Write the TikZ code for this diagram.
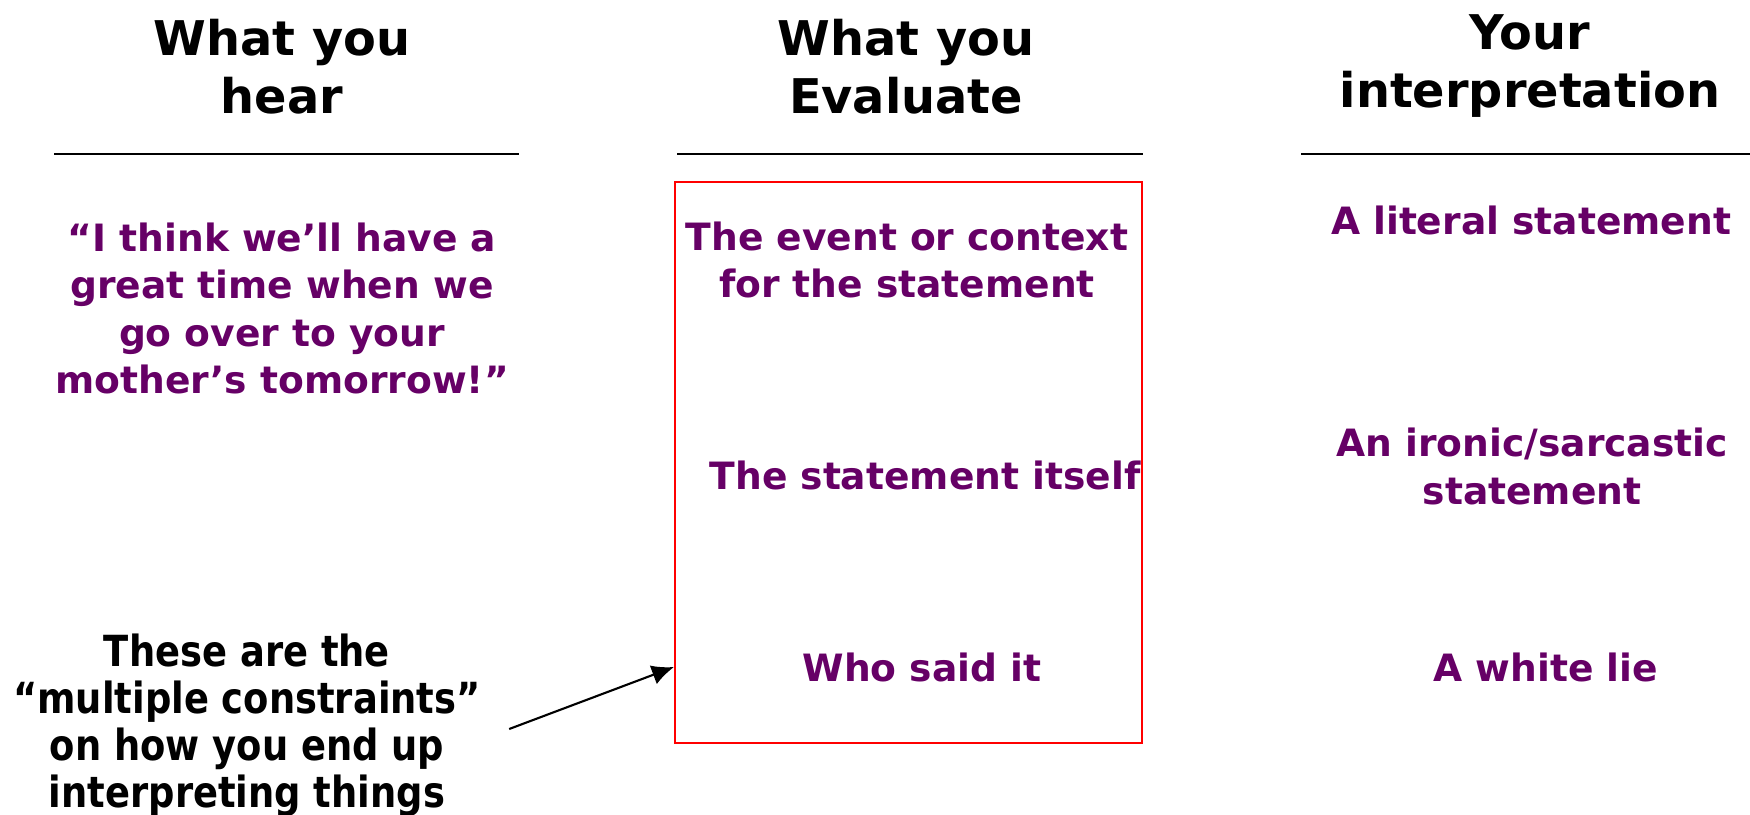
\documentclass[tikz,border=0pt]{standalone}
\usepackage{fontspec}
\setmainfont{DejaVu Sans}
\newfontfamily\hintfont[FakeStretch=0.86]{DejaVu Sans}
\usepackage{tikz}
\usetikzlibrary{arrows.meta,calc}
\definecolor{Saying}{RGB}{102, 0, 102}
\definecolor{Frame}{RGB}{255, 0, 0}

\tikzset{
    heading/.style={align=center, font=\bfseries\fontsize{13.6}{16.5}\selectfont},
    saying/.style={align=center, text=Saying, font=\bfseries\fontsize{10.7}{13.4}\selectfont},
    hint/.style={align=center, font=\hintfont\bfseries\fontsize{12.2}{13.4}\selectfont},
    rule/.style={line width=0.6pt}
}

\begin{document}
\begin{tikzpicture}
    %%Background
    \useasboundingbox (0,0) rectangle (17.5,-8.14);

    %% Headings
    \node[heading] (hear) at (2.82,-0.67) {What you\\hear};
    \node[heading] (evaluate) at (9.06,-0.67) {What you\\Evaluate};
    \node[heading] (interp) at (15.30,-0.665) {Your\\interpretation};

    \draw[rule]
    (0.54,-1.54) to (5.19,-1.54)
    (6.77,-1.54) to (11.43,-1.54)
    (13.01,-1.54) to (17.50,-1.54)
    ;

    %% What you hear
    \node[saying] (quote) at (2.82,-3.085)
    {``I think we'll have a\\great time when we\\go over to your\\mother's tomorrow!''};

    %% What you evaluate
    \node[draw=Frame, line width=0.6pt, minimum width=4.67cm, minimum height=5.61cm]
    (evalbox) at (9.085,-4.625) {};
    \node[saying] (context) at (9.07,-2.60) {The event or context\\for the statement};
    \node[saying] (itself) at (9.25,-4.75) {The statement itself};
    \node[saying] (whosaid) at (9.22,-6.67) {Who said it};

    %% Your interpretation
    \node[saying] (literal) at (15.31,-2.20) {A literal statement};
    \node[saying] (ironic) at (15.32,-4.665) {An ironic/sarcastic\\statement};
    \node[saying] (whitelie) at (15.46,-6.67) {A white lie};

    %% Note
    \node[hint] (constraints) at (2.47,-7.25)
    {These are the\\“multiple constraints”\\on how you end up\\interpreting things};
    \draw[line width=0.6pt, -{Latex[length=2.2mm,width=2mm]}]
    ([shift={(1.6mm,-0.4mm)}]constraints.east) to (evalbox.west |- whosaid);

\end{tikzpicture}
\end{document}
